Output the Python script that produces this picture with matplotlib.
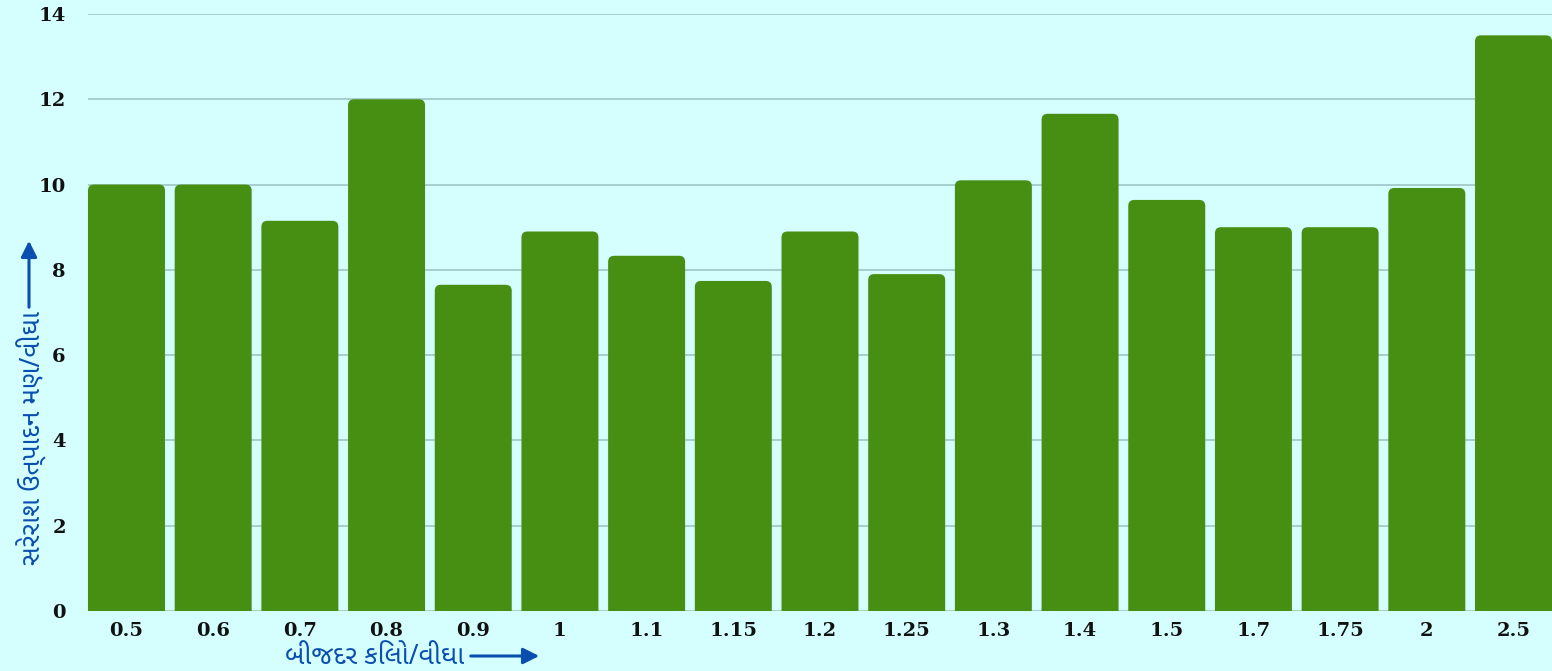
import matplotlib
matplotlib.use('agg')
import matplotlib.pyplot as plt
from matplotlib.patches import FancyBboxPatch, FancyArrowPatch
import numpy as np

# બીજદર (કિલો/વીઘા) અને સરેરાશ ઉત્પાદન (મણ/વીઘા)
seed_rates = ['0.5', '0.6', '0.7', '0.8', '0.9', '1', '1.1', '1.15', '1.2',
              '1.25', '1.3', '1.4', '1.5', '1.7', '1.75', '2', '2.5']
avg_yield = [10, 10, 9.15, 12, 7.65, 8.9, 8.33, 7.74, 8.9,
             7.9, 10.1, 11.66, 9.64, 9, 9, 9.92, 13.5]
y_ticks = [0, 2, 4, 6, 8, 10, 12, 14]

bg = '#d5fefe'
bar_color = '#478f13'
label_blue = '#0a4fb0'

plt.rcParams['font.family'] = ['Noto Sans Gujarati', 'Noto Sans', 'DejaVu Sans']

fig = plt.figure(figsize=(15.52, 6.71), dpi=100, facecolor=bg)
ax = fig.add_axes([88 / 1552, 60 / 671, 1 - 88 / 1552, (611 - 14) / 671])
ax.set_facecolor(bg)

w = 0.888
x = np.arange(len(seed_rates))
bars = ax.bar(x, avg_yield, width=w, color=bar_color, zorder=3)

ax.set_xlim(-w / 2, len(seed_rates) - 1 + w / 2)
ax.set_ylim(0, 14)

# rounded tops: swap each rect for a rounded box that starts below the axis
px_x = (1552 - 88) / (len(seed_rates) - 1 + w)
px_y = (611 - 14) / 14
for r in bars:
    r.set_visible(False)
    box = FancyBboxPatch((r.get_x(), -0.5), r.get_width(), r.get_height() + 0.5,
                         boxstyle='round,pad=0,rounding_size=%.4f' % (6 / px_x),
                         mutation_aspect=px_x / px_y,
                         facecolor=bar_color, edgecolor='none', zorder=3)
    ax.add_patch(box)

ax.set_yticks(y_ticks)
ax.set_xticks(x)
ax.set_xticklabels(seed_rates)
ax.grid(axis='y', color='#9fc6c6', linewidth=1.2, zorder=0)
for s in ax.spines.values():
    s.set_visible(False)
ax.tick_params(axis='x', length=0, pad=8)
ax.tick_params(axis='y', length=0, pad=16)
for lab in ax.get_xticklabels() + ax.get_yticklabels():
    lab.set_family('DejaVu Serif')
    lab.set_fontweight('bold')
    lab.set_fontsize(14)
    lab.set_color('#111111')

# axis titles with arrows
fig.text(285 / 1552, 1 - 657 / 671, 'બીજદર કિલો/વીઘા', color=label_blue,
         fontsize=19, fontweight='bold', ha='left', va='center')
fig.add_artist(FancyArrowPatch(
    (468 / 1552, 1 - 656 / 671), (542 / 1552, 1 - 656 / 671),
    transform=fig.transFigure, arrowstyle='-|>', mutation_scale=24,
    color=label_blue, linewidth=2.2))

fig.text(32 / 1552, 1 - 438 / 671, 'સરેરાશ ઉત્પાદન મણ/વીઘા', color=label_blue,
         fontsize=19, fontweight='bold', rotation=90, ha='center', va='center')
fig.add_artist(FancyArrowPatch(
    (29 / 1552, 1 - 310 / 671), (29 / 1552, 1 - 238 / 671),
    transform=fig.transFigure, arrowstyle='-|>', mutation_scale=24,
    color=label_blue, linewidth=2.2))

fig.savefig('out.png', dpi=100, facecolor=bg)
